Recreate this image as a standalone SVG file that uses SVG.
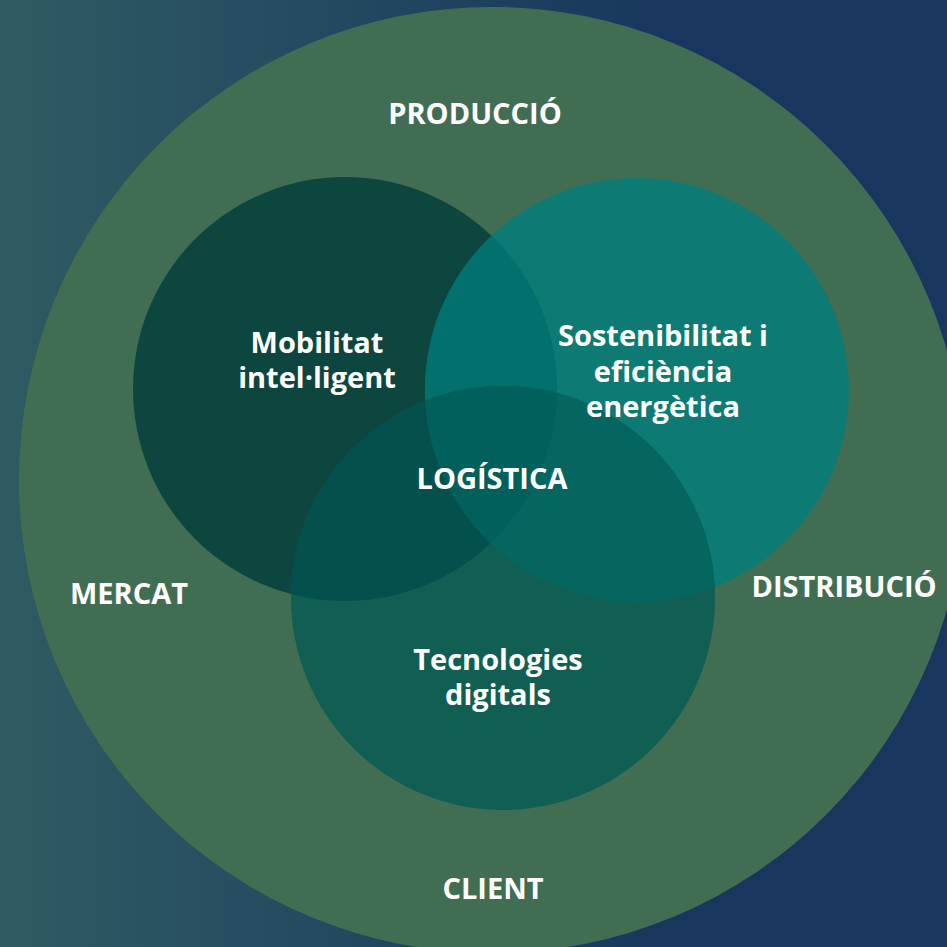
<svg xmlns="http://www.w3.org/2000/svg" width="947" height="947" viewBox="0 0 947 947">
<defs>
<linearGradient id="bg" gradientUnits="userSpaceOnUse" x1="0" y1="0" x2="680" y2="0">
<stop offset="0" stop-color="#2f5b62"/>
<stop offset="1" stop-color="#18365e"/>
</linearGradient>
<clipPath id="cA"><circle cx="345" cy="389" r="212"/></clipPath>
<clipPath id="cB"><circle cx="637" cy="390" r="212"/></clipPath>
</defs>
<style>
text{font-family:"Open Sans","Noto Sans","Liberation Sans",sans-serif;font-weight:700;fill:#ffffff;text-anchor:middle;font-size:29px}
</style>
<rect width="947" height="947" fill="url(#bg)"/>
<g id="outer">
<circle cx="492" cy="480" r="473" fill="#416e53"/>
<text x="475" y="124">PRODUCCIÓ</text>
<text x="129" y="604">MERCAT</text>
<text x="844" y="597">DISTRIBUCIÓ</text>
<text x="493" y="899">CLIENT</text>
</g>
<g id="circle-mobilitat">
<circle cx="345" cy="389" r="212" fill="#0d463f"/>
</g>
<g id="circle-sostenibilitat">
<circle cx="637" cy="390" r="212" fill="#0d7b74"/>
</g>
<g id="circle-tecnologies">
<circle cx="503" cy="598" r="212" fill="#115e53"/>
</g>
<g id="overlaps">
<g clip-path="url(#cA)"><circle cx="637" cy="390" r="212" fill="#02706c"/></g>
<g clip-path="url(#cA)"><circle cx="503" cy="598" r="212" fill="#04504c"/></g>
<g clip-path="url(#cB)"><circle cx="503" cy="598" r="212" fill="#04665f"/></g>
<g clip-path="url(#cA)"><g clip-path="url(#cB)"><circle cx="503" cy="598" r="212" fill="#02605c"/></g></g>
</g>
<g id="labels">
<text x="317" y="353">Mobilitat<tspan x="317" dy="35">intel·ligent</tspan></text>
<text x="663" y="346">Sostenibilitat i<tspan x="663" dy="36">eficiència</tspan><tspan x="663" dy="35">energètica</tspan></text>
<text x="492" y="489">LOGÍSTICA</text>
<text x="498" y="670">Tecnologies<tspan x="498" dy="35">digitals</tspan></text>
</g>
</svg>
